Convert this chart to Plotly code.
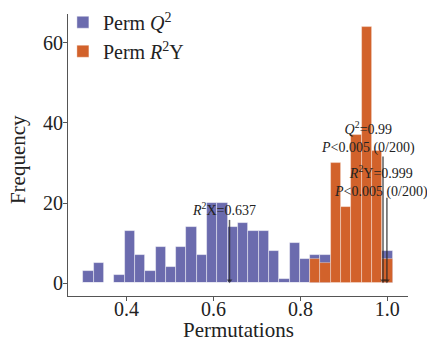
import plotly.graph_objects as go

# Histogram bins (30 bins)
bin_start = 0.301
bin_width = 0.0237
q2_counts = [3, 5, 0, 2, 13, 7, 3, 9, 4, 9, 14, 7, 20, 20, 14, 15, 13, 13, 8, 1,
             10, 6, 7, 7, 0, 0, 0, 0, 0, 8]
r2y_counts = [0, 0, 0, 0, 0, 0, 0, 0, 0, 0, 0, 0, 0, 0, 0, 0, 0, 0, 0, 0,
              0, 0, 6, 5, 30, 19, 37, 64, 33, 6]

r2x_value = 0.637
q2_value = 0.99
r2y_value = 0.999
x_ticks = [0.4, 0.6, 0.8, 1.0]
y_ticks = [0, 20, 40, 60]

centers = [bin_start + (i + 0.5) * bin_width for i in range(len(q2_counts))]

BLUE = "#6b6bae"
ORANGE = "#d2622b"
FONT = "Liberation Serif"
TXT = "#222222"

fig = go.Figure()
fig.add_trace(go.Bar(x=centers, y=q2_counts, width=bin_width,
                     marker=dict(color=BLUE, line=dict(color="rgba(255,255,255,0.55)", width=0.8)),
                     name="Perm <i>Q</i><sup>2</sup>"))
fig.add_trace(go.Bar(x=centers, y=r2y_counts, width=bin_width,
                     marker=dict(color=ORANGE, line=dict(color="rgba(255,255,255,0.45)", width=0.8)),
                     name="Perm <i>R</i><sup>2</sup>Y"))

def arrow(xv, top):
    fig.add_trace(go.Scatter(x=[xv, xv], y=[top, 0.6], mode="lines+markers",
                             line=dict(color="rgba(40,40,40,0.75)", width=1.5),
                             marker=dict(symbol="triangle-down", size=[0, 5],
                                         color="rgba(20,20,20,0.9)", line=dict(width=0)),
                             showlegend=False, hoverinfo="skip"))

arrow(r2x_value, 15.8)
arrow(q2_value, 31.6)
arrow(r2y_value, 21.3)

fig.add_annotation(x=r2x_value - 0.012, y=18.4, xref="x", yref="y", showarrow=False,
                   text="<i>R</i><sup>2</sup>X=0.637", font=dict(family=FONT, size=14, color=TXT))
fig.add_annotation(x=q2_value - 0.034, y=36.3, xref="x", yref="y", showarrow=False,
                   text="<i>Q</i><sup>2</sup>=0.99<br><i>P</i>&lt;0.005 (0/200)",
                   font=dict(family=FONT, size=14, color=TXT))
fig.add_annotation(x=r2y_value - 0.013, y=25.5, xref="x", yref="y", showarrow=False,
                   text="<i>R</i><sup>2</sup>Y=0.999<br><i>P</i>&lt;0.005 (0/200)",
                   font=dict(family=FONT, size=14, color=TXT))

# axis titles
fig.add_annotation(x=0.5, y=-47 / 282, xref="paper", yref="paper", showarrow=False,
                   xanchor="center", yanchor="bottom", borderpad=0, text="Permutations",
                   font=dict(family=FONT, size=21, color=TXT))
fig.add_annotation(x=-0.147, y=0.482, xref="paper", yref="paper", showarrow=False,
                   xanchor="center", yanchor="middle", text="Frequency", textangle=-90,
                   font=dict(family=FONT, size=21, color=TXT))

fig.update_layout(
    width=427, height=343,
    margin=dict(l=68, r=19, t=14, b=47, autoexpand=False),
    barmode="overlay", bargap=0,
    plot_bgcolor="white", paper_bgcolor="white",
    font=dict(family=FONT, size=20, color=TXT),
    legend=dict(x=-0.015, y=1.04, xanchor="left", yanchor="top",
                font=dict(family=FONT, size=20, color=TXT),
                bgcolor="rgba(0,0,0,0)", itemwidth=30, tracegroupgap=0),
    xaxis=dict(range=[0.2655, 1.0475], tickvals=x_ticks,
               ticktext=[f"{v:.1f}" for v in x_ticks],
               showline=True, linecolor="#555", linewidth=1, automargin=False,
               ticks="outside", ticklen=4, tickcolor="#555", showgrid=False, zeroline=False,
               ticklabelstandoff=-9,
               tickfont=dict(family=FONT, size=20, color=TXT)),
    yaxis=dict(range=[-3.2, 67.2], tickvals=y_ticks, automargin=False,
               showline=True, linecolor="#555", linewidth=1,
               ticks="outside", ticklen=4, tickcolor="#555", showgrid=False, zeroline=False,
               ticklabelstandoff=-4,
               tickfont=dict(family=FONT, size=20, color=TXT)),
)

fig.write_html("out.html")
